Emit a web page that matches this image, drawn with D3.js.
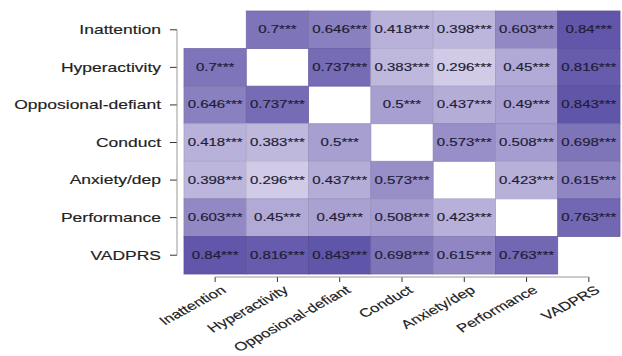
<!DOCTYPE html>
<html>
<head>
<meta charset="utf-8">
<script src="https://cdn.jsdelivr.net/npm/d3@7"></script>
<style>
  body { margin: 0; background: #fff; }
  text { font-family: "Liberation Sans", Arial, sans-serif; fill: #222; }
</style>
</head>
<body>
<div id="plot"></div>
<script>
// variables (rows and columns share the same order)
var vars = ['Inattention', 'Hyperactivity', 'Opposional-defiant', 'Conduct',
            'Anxiety/dep', 'Performance', 'VADPRS'];

// correlation matrix, null on the diagonal
var r_inattention   = [null, 0.7, 0.646, 0.418, 0.398, 0.603, 0.84];
var r_hyperactivity = [0.7, null, 0.737, 0.383, 0.296, 0.45, 0.816];
var r_opposional    = [0.646, 0.737, null, 0.5, 0.437, 0.49, 0.843];
var r_conduct       = [0.418, 0.383, 0.5, null, 0.573, 0.508, 0.698];
var r_anxiety       = [0.398, 0.296, 0.437, 0.573, null, 0.423, 0.615];
var r_performance   = [0.603, 0.45, 0.49, 0.508, 0.423, null, 0.763];
var r_vadprs        = [0.84, 0.816, 0.843, 0.698, 0.615, 0.763, null];
var matrix = [r_inattention, r_hyperactivity, r_opposional, r_conduct,
              r_anxiety, r_performance, r_vadprs];
var stars = '***';

var width = 622, height = 356;
var sx_cell = 1.5;  // the picture is stretched sideways
var sx_lab = 1.4;

var svg = d3.select('#plot').append('svg')
    .attr('width', width)
    .attr('height', height);

var x = d3.scaleBand().domain(vars).range([184, 620]);
var y = d3.scaleBand().domain(vars).range([11, 274]);

var color = d3.scaleLinear()
    .domain([0.29, 0.85])
    .range(['#d2cce8', '#5f54a8']);

// flatten cells
var cells = [];
matrix.forEach(function(row, i) {
    row.forEach(function(v, j) {
        if (v !== null) cells.push({ row: vars[i], col: vars[j], value: v });
    });
});

svg.append('g').selectAll('rect')
    .data(cells)
    .enter()
    .append('rect')
    .attr('x', function(d) { return x(d.col); })
    .attr('y', function(d) { return y(d.row); })
    .attr('width', x.bandwidth())
    .attr('height', y.bandwidth())
    .attr('fill', function(d) { return color(d.value); })
    .attr('stroke', function(d) { return d3.color(color(d.value)).darker(0.25); })
    .attr('stroke-width', 0.8);

svg.append('g').selectAll('text')
    .data(cells)
    .enter()
    .append('text')
    .attr('transform', function(d) {
        return 'translate(' + (x(d.col) + x.bandwidth() / 2) + ',' +
               (y(d.row) + y.bandwidth() / 2) + ') scale(' + sx_cell + ',1)';
    })
    .attr('text-anchor', 'middle')
    .attr('dy', '0.35em')
    .style('font-size', '10px')
    .style('fill', '#1e1d36')
    .style('stroke', '#1e1d36')
    .style('stroke-width', 0.15)
    .text(function(d) { return d.value + stars; });

// Y axis
var yAxis = svg.append('g')
    .attr('transform', 'translate(177,0)')
    .call(d3.axisLeft(y).tickSize(7).tickSizeOuter(0));
yAxis.select('.domain').remove();
yAxis.selectAll('.tick line').attr('stroke', '#333');
yAxis.selectAll('.tick text')
    .attr('x', 0)
    .attr('dy', '0.35em')
    .attr('transform', 'translate(-16,0) scale(' + sx_lab + ',1)')
    .style('font-size', '12.5px')
    .style('fill', '#222')
    .style('stroke', '#222')
    .style('stroke-width', 0.15);
svg.append('line')
    .attr('x1', 177).attr('x2', 177)
    .attr('y1', y(vars[0]) + y.bandwidth() / 2)
    .attr('y2', y(vars[vars.length - 1]) + y.bandwidth() / 2)
    .attr('stroke', '#999');

// X axis
var xAxis = svg.append('g')
    .attr('transform', 'translate(0,277)')
    .call(d3.axisBottom(x).tickSize(5).tickSizeOuter(0));
xAxis.select('.domain').remove();
xAxis.selectAll('.tick line').attr('stroke', '#333');
xAxis.selectAll('.tick text')
    .attr('x', 0).attr('y', 0).attr('dy', '0.7em')
    .attr('text-anchor', 'end')
    .attr('transform', 'translate(5,8) scale(' + sx_lab + ',1) rotate(-37)')
    .style('font-size', '12px')
    .style('fill', '#222')
    .style('stroke', '#222')
    .style('stroke-width', 0.15);
svg.append('line')
    .attr('y1', 277).attr('y2', 277)
    .attr('x1', x(vars[0]) + x.bandwidth() / 2)
    .attr('x2', x(vars[vars.length - 1]) + x.bandwidth() / 2)
    .attr('stroke', '#999');
</script>
</body>
</html>
